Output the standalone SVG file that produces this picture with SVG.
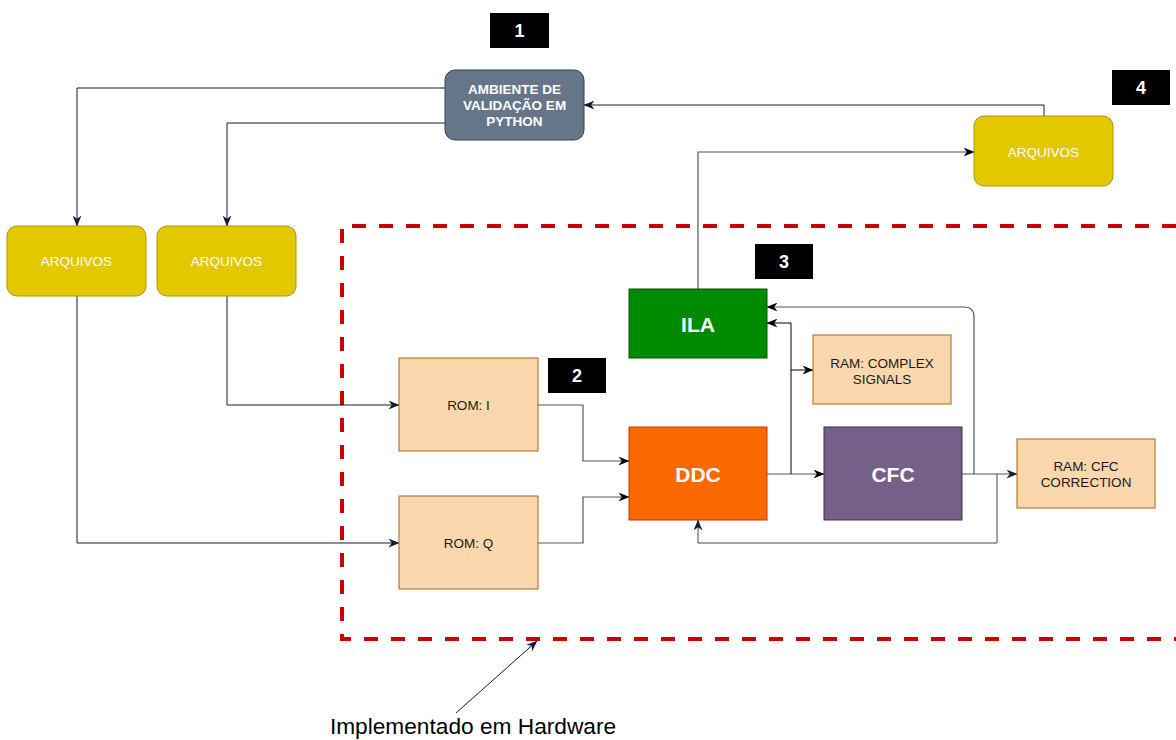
<svg xmlns="http://www.w3.org/2000/svg" width="1176" height="740" viewBox="0 0 1176 740">
<defs>
<marker id="arrN" viewBox="0 0 10 8" refX="9.5" refY="4" markerWidth="11" markerHeight="9" markerUnits="userSpaceOnUse" orient="auto">
<path d="M0,0 L10,4 L0,8 L3,4 Z" fill="#0f1e36"/>
</marker>
<marker id="arrK" viewBox="0 0 10 8" refX="9.5" refY="4" markerWidth="11" markerHeight="9" markerUnits="userSpaceOnUse" orient="auto">
<path d="M0,0 L10,4 L0,8 L3,4 Z" fill="#000"/>
</marker>
</defs>
<style>
.t{font-family:"Liberation Sans",Arial,sans-serif;text-anchor:middle;dominant-baseline:central}
.arq rect{fill:#e3c800;stroke:#b09500;stroke-width:1}
.arq text{fill:#ffffff;font-size:13.5px}
.rom rect{fill:#fad7ac;stroke:#b46504;stroke-width:1}
.rom text{fill:#1a1a1a;font-size:13.5px}
.badge rect{fill:#000}
.badge text{fill:#fff;font-size:18px;font-weight:bold}
.big{fill:#fff;font-size:21px;font-weight:bold}
.cn{fill:none;stroke:#0f1e36;stroke-width:1;marker-end:url(#arrN)}
.cg{fill:none;stroke:#555;stroke-width:1.2;marker-end:url(#arrK)}
.ck{fill:none;stroke:#000;stroke-width:1;marker-end:url(#arrK)}
</style>
<rect width="1176" height="740" fill="#fff"/>

<!-- hardware boundary -->
<path d="M1176,226 H342 V639 H1176" fill="none" stroke="#cc0000" stroke-width="4" stroke-dasharray="14,13"/>

<g id="connectors">
<path class="cn" d="M445,88 H77 V226"/>
<path class="cn" d="M445,123 H227 V226"/>
<path class="cn" d="M77,296 V543 H399"/>
<path class="cn" d="M227,296 V405 H399"/>
<path class="cg" d="M538,405 H583 V461 H629"/>
<path class="cg" d="M538,543 H583 V497 H629"/>
<path class="cg" d="M767,474 H824"/>
<path class="ck" d="M791,474 V323 H767"/>
<path class="ck" d="M791,370 H813"/>
<path class="cn" d="M962,474 H1017" style="stroke:#555"/>
<path class="cg" d="M974,474 V317 Q974,307 964,307 H767"/>
<path class="cn" d="M997,474 V543 H698 V520" style="stroke:#3a4a5a"/>
<path class="cg" d="M698,289 V152 H974"/>
<path class="cn" d="M1044,116 V105 H584"/>
<path class="cn" d="M456,713 L537,641"/>
</g>

<g id="python">
<rect x="445" y="70" width="139" height="70" rx="10" fill="#647687" stroke="#314354"/>
<text class="t" x="514.5" y="89" fill="#fff" font-size="13.5" font-weight="bold">AMBIENTE DE</text>
<text class="t" x="514.5" y="105" fill="#fff" font-size="13.5" font-weight="bold">VALIDAÇÃO EM</text>
<text class="t" x="514.5" y="121" fill="#fff" font-size="13.5" font-weight="bold">PYTHON</text>
</g>

<g id="arquivos1" class="arq"><rect x="7" y="226" width="139" height="70" rx="10"/><text class="t" x="76.5" y="261">ARQUIVOS</text></g>
<g id="arquivos2" class="arq"><rect x="157" y="226" width="139" height="70" rx="10"/><text class="t" x="226.5" y="261">ARQUIVOS</text></g>
<g id="arquivos3" class="arq"><rect x="974" y="116" width="139" height="70" rx="10"/><text class="t" x="1043.5" y="152">ARQUIVOS</text></g>

<g id="romi" class="rom"><rect x="399" y="358" width="139" height="93"/><text class="t" x="468.5" y="405">ROM: I</text></g>
<g id="romq" class="rom"><rect x="399" y="496" width="139" height="93"/><text class="t" x="468.5" y="543">ROM: Q</text></g>

<g id="ila"><rect x="629" y="289" width="138" height="69" fill="#008a00" stroke="#005700"/><text class="t big" x="698" y="324">ILA</text></g>
<g id="ddc"><rect x="629" y="427" width="138" height="93" fill="#fa6800" stroke="#c73500"/><text class="t big" x="698" y="474">DDC</text></g>
<g id="cfc"><rect x="824" y="427" width="138" height="93" fill="#76608a" stroke="#432d57"/><text class="t big" x="893" y="474">CFC</text></g>

<g id="ramcomplex" class="rom"><rect x="813" y="335" width="138" height="69"/><text class="t" x="882" y="363">RAM: COMPLEX</text><text class="t" x="882" y="379">SIGNALS</text></g>
<g id="ramcfc" class="rom"><rect x="1017" y="439" width="138" height="69"/><text class="t" x="1086" y="466">RAM: CFC</text><text class="t" x="1086" y="482">CORRECTION</text></g>

<g id="badge1" class="badge"><rect x="490" y="13" width="59" height="35"/><text class="t" x="519.5" y="31">1</text></g>
<g id="badge2" class="badge"><rect x="548" y="358" width="58" height="35"/><text class="t" x="577" y="376">2</text></g>
<g id="badge3" class="badge"><rect x="755" y="244" width="58" height="35"/><text class="t" x="784" y="262">3</text></g>
<g id="badge4" class="badge"><rect x="1112" y="70" width="58" height="35"/><text class="t" x="1141" y="88">4</text></g>

<g id="label"><text class="t" x="473" y="726" fill="#000" font-size="22.7">Implementado em Hardware</text></g>
</svg>
